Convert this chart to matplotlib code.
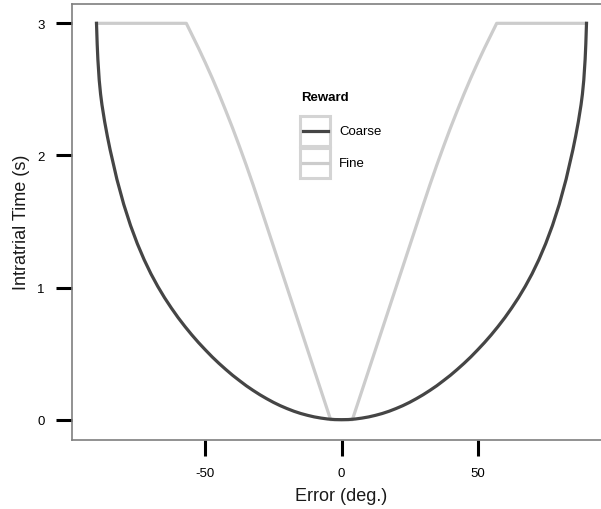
import numpy as np
import matplotlib
matplotlib.use('Agg')
import matplotlib.pyplot as plt
from matplotlib.patches import Rectangle
from matplotlib.lines import Line2D

plt.rcParams['font.family'] = ['Liberation Sans', 'DejaVu Sans']
plt.rcParams['axes.unicode_minus'] = False

# error in degrees vs intratrial time (s)
err_coarse = [-90, -89.75, -89.5, -89, -88.5, -88, -87, -86, -85, -82.5, -80, -77.5, -75,
              -72.5, -70, -67.5, -65, -62.5, -60, -57.5, -55, -52.5, -50, -47.5, -45, -42.5,
              -40, -37.5, -35, -32.5, -30, -27.5, -25, -22.5, -20, -17.5, -15, -12.5, -10,
              -7.5, -5, -2.5, 0, 2.5, 5, 7.5, 10, 12.5, 15, 17.5, 20, 22.5, 25, 27.5, 30,
              32.5, 35, 37.5, 40, 42.5, 45, 47.5, 50, 52.5, 55, 57.5, 60, 62.5, 65, 67.5,
              70, 72.5, 75, 77.5, 80, 82.5, 85, 86, 87, 88, 88.5, 89, 89.5, 89.75, 90]
time_coarse = [3.0, 2.844, 2.728, 2.570, 2.464, 2.384, 2.255, 2.144, 2.043, 1.819, 1.630,
               1.470, 1.332, 1.211, 1.104, 1.009, 0.923, 0.845, 0.772, 0.705, 0.642, 0.583,
               0.528, 0.475, 0.426, 0.380, 0.336, 0.296, 0.257, 0.222, 0.189, 0.159, 0.131,
               0.106, 0.084, 0.064, 0.047, 0.033, 0.021, 0.012, 0.005, 0.001, 0.0, 0.001,
               0.005, 0.012, 0.021, 0.033, 0.047, 0.064, 0.084, 0.106, 0.131, 0.159, 0.189,
               0.222, 0.257, 0.296, 0.336, 0.380, 0.426, 0.475, 0.528, 0.583, 0.642, 0.705,
               0.772, 0.845, 0.923, 1.009, 1.104, 1.211, 1.332, 1.470, 1.630, 1.819, 2.043,
               2.144, 2.255, 2.384, 2.464, 2.570, 2.728, 2.844, 3.0]

err_fine = [-90, -57, -55, -52.5, -50, -47.5, -45, -42.5, -40, -37.5, -35, -32.5, -30,
            -4, 4, 30, 32.5, 35, 37.5, 40, 42.5, 45, 47.5, 50, 52.5, 55, 57, 90]
time_fine = [3.0, 3.0, 2.916, 2.811, 2.701, 2.586, 2.465, 2.338, 2.207, 2.069, 1.927,
             1.779, 1.625, 0.0, 0.0, 1.625, 1.779, 1.927, 2.069, 2.207, 2.338, 2.465,
             2.586, 2.701, 2.811, 2.916, 3.0, 3.0]

x_ticks = [-50, 0, 50]
y_ticks = [0, 1, 2, 3]

col_coarse = '#454545'
col_fine = '#cccccc'

W, H = 601, 510
fig = plt.figure(figsize=(W / 100, H / 100), dpi=100)
ax = fig.add_axes([72 / W, 1 - 440.5 / H, 539 / W, 436 / H])

ax.plot(err_coarse, time_coarse, color=col_coarse, lw=2.3, solid_joinstyle='round', zorder=3)
ax.plot(err_fine, time_fine, color=col_fine, lw=2.3, solid_joinstyle='round', zorder=2)

ax.set_xlim(-99, 99)
ax.set_ylim(-0.15, 3.15)
ax.set_xticks(x_ticks)
ax.set_yticks(y_ticks)
ax.tick_params(direction='out', length=11.5, width=2.2, color='black',
               labelsize=9.5, labelcolor='black', pad=8)

for side in ['left', 'top', 'bottom']:
    ax.spines[side].set_color('#7f7f7f')
    ax.spines[side].set_linewidth(1.2)
ax.spines['right'].set_visible(False)

ax.set_xlabel('Error (deg.)', fontsize=13, color='#1a1a1a', labelpad=6)
ax.set_ylabel('Intratrial Time (s)', fontsize=13, color='#1a1a1a', labelpad=5)

# legend drawn in pixel coordinates
def fx(px):
    return px / W

def fy(py):
    return 1 - py / H

fig.text(fx(301), fy(98), 'Reward', fontsize=9.5, fontweight='bold', va='center', ha='left')
labels = ['Coarse', 'Fine']
cols = [col_coarse, col_fine]
for i, (lab, c) in enumerate(zip(labels, cols)):
    top = 116 + i * 32.2
    fig.add_artist(Rectangle((fx(299.5), fy(top + 31)), 30.5 / W, 30.5 / H,
                             transform=fig.transFigure, fill=False,
                             edgecolor='#d4d4d4', lw=2.2))
    cy = top + 16
    fig.add_artist(Line2D([fx(302.5), fx(327.5)], [fy(cy), fy(cy)],
                          transform=fig.transFigure, color=c, lw=2.3))
    fig.text(fx(339), fy(cy), lab, fontsize=9.5, va='center', ha='left')

fig.savefig('out.png', dpi=100)
